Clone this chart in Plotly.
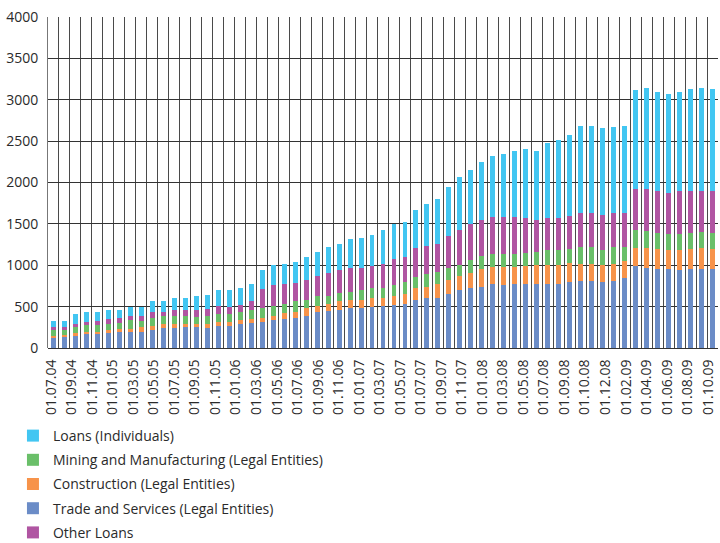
import numpy as np
import plotly.graph_objects as go

# Loan portfolio by sector, one value per reporting date (stacked bars)
trade_services = [127, 135, 151, 175, 175, 187, 189, 189, 199, 215, 240, 240, 250, 251, 247, 264,
                  264, 288, 300, 312, 336, 348, 368, 392, 433, 443, 457, 481, 481, 493, 505, 525,
                  537, 586, 610, 610, 658, 707, 731, 743, 779, 767, 779, 779, 779, 779, 779, 803,
                  815, 815, 803, 815, 852, 997, 972, 960, 960, 948, 960, 960, 960]
construction = [24, 20, 36, 20, 20, 33, 37, 45, 49, 49, 48, 48, 38, 45, 49, 48,
                48, 48, 48, 56, 56, 69, 65, 89, 80, 86, 105, 97, 97, 117, 105, 101,
                113, 137, 125, 161, 161, 160, 173, 209, 197, 209, 197, 206, 221, 221, 221, 230,
                206, 206, 206, 206, 205, 217, 242, 242, 230, 242, 242, 254, 242]
mining_manufacturing = [69, 68, 65, 89, 89, 76, 74, 100, 84, 104, 96, 96, 94, 84, 96, 96,
                        96, 105, 109, 113, 113, 112, 129, 105, 113, 105, 108, 104, 129, 113, 121, 141,
                        153, 141, 165, 145, 145, 142, 165, 165, 166, 166, 166, 169, 166, 190, 190, 169,
                        205, 205, 181, 205, 169, 218, 205, 193, 193, 193, 193, 193, 193]
other_loans = [28, 25, 44, 36, 48, 60, 60, 50, 60, 65, 57, 73, 73, 85, 85, 105,
               93, 84, 105, 238, 254, 242, 221, 233, 241, 268, 270, 282, 257, 274, 290, 314,
               302, 342, 338, 346, 395, 423, 435, 435, 446, 446, 446, 422, 386, 386, 386, 398,
               411, 411, 422, 411, 411, 495, 508, 508, 495, 520, 508, 496, 508]
individuals = [84, 84, 109, 121, 109, 109, 105, 109, 109, 129, 133, 153, 155, 169, 169, 182,
               206, 206, 217, 229, 250, 250, 262, 278, 299, 314, 322, 359, 371, 374, 411, 423,
               423, 467, 507, 544, 592, 640, 652, 701, 737, 762, 798, 834, 834, 905, 941, 978,
               1050, 1050, 1051, 1038, 1050, 1195, 1220, 1195, 1196, 1195, 1232, 1244, 1232]

tick_labels = ["01.07.04", "01.09.04", "01.11.04", "01.01.05", "01.03.05", "01.05.05", "01.07.05",
               "01.09.05", "01.11.05", "01.01.06", "01.03.06", "01.05.06", "01.07.06", "01.09.06",
               "01.11.06", "01.01.07", "01.03.07", "01.05.07", "01.07.07", "01.09.07", "01.11.07",
               "01.01.08", "01.03.08", "01.05.08", "01.07.08", "01.09.08", "01.10.08", "01.12.08",
               "01.02.09", "01.04.09", "01.06.09", "01.08.09", "01.10.09"]

n = len(trade_services)
x = list(range(n))

FONT = "Open Sans"
TEXT = "#2a2a2a"

# stacking order bottom -> top, with the legend order given by rank
series = [
    ("Trade and Services (Legal Entities)", trade_services, "#6b8cc7", 4),
    ("Construction (Legal Entities)", construction, "#f7934a", 3),
    ("Mining and Manufacturing (Legal Entities)", mining_manufacturing, "#6abf69", 2),
    ("Other Loans", other_loans, "#b055a2", 5),
    ("Loans (Individuals)", individuals, "#42c6f2", 1),
]

fig = go.Figure()
for name, vals, color, rank in series:
    fig.add_trace(go.Bar(
        x=x, y=vals, name=name, legendrank=rank, legendgroup=name,
        marker=dict(color=color, line=dict(width=0)),
    ))

tick_pos = np.linspace(-0.21, 59.6, len(tick_labels))

fig.update_layout(
    width=720, height=543,
    margin=dict(l=48, r=2, t=17, b=195, autoexpand=False),
    paper_bgcolor="white", plot_bgcolor="white",
    barmode="stack", bargap=0.55,
    font=dict(family=FONT, size=14, color=TEXT),
    showlegend=True,
    legend=dict(
        xref="container", yref="container",
        x=0.018, xanchor="left", y=0.2265, yanchor="top",
        orientation="v", traceorder="grouped", tracegroupgap=3,
        font=dict(family=FONT, size=14, color=TEXT),
        bgcolor="rgba(0,0,0,0)",
    ),
    xaxis=dict(
        range=[-0.5, n - 0.5],
        tickmode="array", tickvals=tick_pos, ticktext=tick_labels,
        tickangle=-90, showgrid=False, zeroline=False,
        ticks="outside", ticklen=5, tickcolor="rgba(0,0,0,0)",
        tickfont=dict(family=FONT, size=14, color=TEXT),
        showline=False, automargin=False,
        minor=dict(tick0=-0.5, dtick=1, showgrid=True, gridcolor="#4a4a4a", gridwidth=1),
    ),
    yaxis=dict(
        range=[0, 4000], dtick=500, showgrid=True, gridcolor="#333333", gridwidth=1.3,
        zeroline=True, zerolinecolor="#333333", zerolinewidth=1.3,
        showline=True, linecolor="#777777", linewidth=1, automargin=False,
        ticks="outside", ticklen=6, tickcolor="rgba(0,0,0,0)",
        tickfont=dict(family=FONT, size=14, color=TEXT),
    ),
)

fig.write_html("out.html")
